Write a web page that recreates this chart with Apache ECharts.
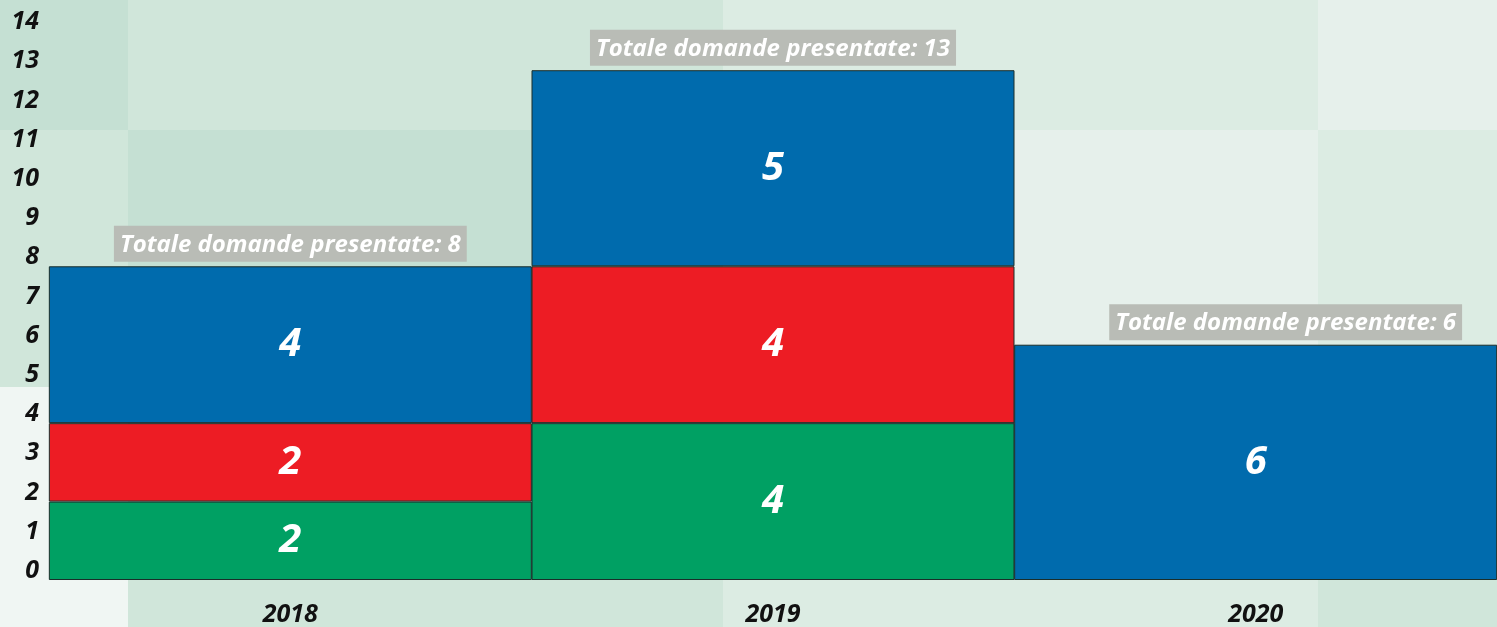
<!DOCTYPE html>
<html>
<head>
<meta charset="utf-8">
<script src="https://cdn.jsdelivr.net/npm/echarts@6/dist/echarts.min.js"></script>
<style>
  html, body { margin: 0; padding: 0; }
  #wrap { position: relative; width: 1497px; height: 627px; overflow: hidden; }
  #bg {
    position: absolute; inset: 0;
    display: grid;
    grid-template-columns: 128px 595px 595px 179px;
    grid-template-rows: 130px 257px 240px;
  }
  #chart { position: absolute; inset: 0; }
</style>
</head>
<body>
<div id="wrap">
  <div id="bg"></div>
  <div id="chart"></div>
</div>
<script>
// dati
const years = ['2018', '2019', '2020']
const greenVals = [2, 4, 0]
const redVals = [2, 4, 0]
const blueVals = [4, 5, 6]
const totalPrefix = 'Totale domande presentate: '

// sfondo a tasselli
const tileColors = [
  '#c5e0d3', '#d0e6da', '#dcece3', '#e6f0eb',
  '#d0e6da', '#c5e0d3', '#e6f0eb', '#dcece3',
  '#f0f6f3', '#d0e6da', '#dcece3', '#d0e6da'
]
const bg = document.getElementById('bg')
tileColors.forEach(c => {
  const d = document.createElement('div')
  d.style.background = c
  bg.appendChild(d)
})

const totals = years.map((_, i) => greenVals[i] + redVals[i] + blueVals[i])
const font = '"Open Sans", "Noto Sans", sans-serif'

const segLabel = {
  show: true,
  position: 'inside',
  color: '#fff',
  fontFamily: font,
  fontStyle: 'italic',
  fontWeight: 'bold',
  fontSize: 40
}

const makeSeries = (vals, color) => ({
  type: 'bar',
  stack: 'tot',
  barWidth: 483,
  data: vals.map(v => (v === 0 ? null : v)),
  itemStyle: { color, borderColor: '#1a2e2a', borderWidth: 1 },
  label: segLabel
})

const chart = echarts.init(document.getElementById('chart'))
chart.setOption({
  backgroundColor: 'transparent',
  animation: false,
  grid: { left: 49, right: -9, top: 31, bottom: 46 },
  xAxis: {
    type: 'category',
    data: years,
    axisLine: { show: false },
    axisTick: { show: false },
    axisLabel: {
      margin: 22,
      color: '#111',
      fontFamily: font,
      fontStyle: 'italic',
      fontWeight: 'bold',
      fontSize: 25
    }
  },
  yAxis: {
    type: 'value',
    min: 0,
    max: 14,
    interval: 1,
    axisLine: { show: false },
    axisTick: { show: false },
    splitLine: { show: false },
    axisLabel: {
      margin: 10,
      showMinLabel: true,
      showMaxLabel: true,
      // etichette un po' sopra la tacca, come nell'originale
      formatter: v => `{v|${v}}\n{s|}`,
      rich: {
        v: {
          color: '#111',
          fontFamily: font,
          fontStyle: 'italic',
          fontWeight: 'bold',
          fontSize: 25,
          lineHeight: 18
        },
        s: { lineHeight: 18 }
      }
    }
  },
  series: [
    makeSeries(greenVals, '#00a063'),
    makeSeries(redVals, '#ed1c24'),
    makeSeries(blueVals, '#006bad'),
    {
      type: 'line',
      data: totals.map((v, i) => (i === totals.length - 1 ? { value: v, label: { offset: [30, 0] } } : v)),
      symbol: 'circle',
      symbolSize: 1,
      showSymbol: true,
      itemStyle: { color: 'rgba(0,0,0,0)' },
      lineStyle: { width: 0, color: 'rgba(0,0,0,0)' },
      z: 5,
      label: {
        show: true,
        position: 'top',
        distance: 4,
        formatter: p => totalPrefix + p.value,
        color: '#fff',
        backgroundColor: '#b9bcb6',
        padding: [7, 6, 5, 6],
        fontFamily: font,
        fontStyle: 'italic',
        fontWeight: 'bold',
        fontSize: 24
      }
    }
  ]
})
</script>
</body>
</html>
